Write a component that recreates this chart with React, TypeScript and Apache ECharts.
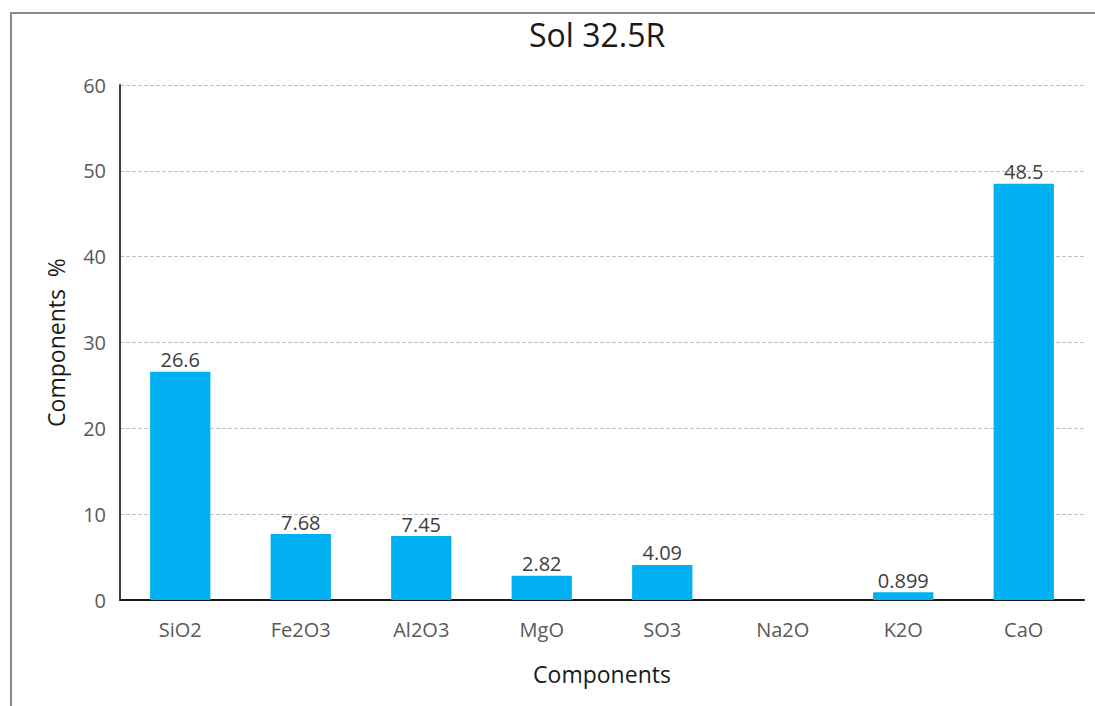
import React, { useEffect, useRef } from "react";
import * as echarts from "echarts";

const categories = ["SiO2", "Fe2O3", "Al2O3", "MgO", "SO3", "Na2O", "K2O", "CaO"];
const values: (number | null)[] = [26.6, 7.68, 7.45, 2.82, 4.09, null, 0.899, 48.5];
const titleText = "Sol 32.5R";
const xName = "Components";
const yName = "Components  %";

export default function App() {
  const ref = useRef<HTMLDivElement>(null);
  useEffect(() => {
    const chart = echarts.init(ref.current!, null, { renderer: "svg" });
    const font = "'Open Sans', 'Noto Sans', sans-serif";
    chart.setOption({
      animation: false,
      backgroundColor: "#ffffff",
      textStyle: { fontFamily: font },
      title: {
        text: titleText,
        left: 524,
        top: 13,
        textStyle: { fontFamily: font, fontSize: 32, fontWeight: "normal", color: "#1a1a1a" },
      },
      graphic: [
        {
          type: "rect",
          shape: { x: 11, y: 13, width: 1200, height: 800 },
          style: { fill: "none", stroke: "#8a8a8a", lineWidth: 2 },
          silent: true,
          z: -1,
        },
      ],
      grid: { left: 120, right: 11, top: 85, bottom: 106 },
      xAxis: {
        type: "category",
        data: categories,
        name: xName,
        nameLocation: "middle",
        nameGap: 62,
        nameTextStyle: { fontFamily: font, fontSize: 23, color: "#1a1a1a" },
        axisLine: { lineStyle: { color: "#1a1a1a", width: 2 } },
        axisTick: { show: false },
        axisLabel: { fontFamily: font, fontSize: 20, color: "#595959", margin: 19 },
      },
      yAxis: {
        type: "value",
        min: 0,
        max: 60,
        interval: 10,
        name: yName,
        nameLocation: "middle",
        nameGap: 53,
        nameTextStyle: { fontFamily: font, fontSize: 23, color: "#1a1a1a" },
        axisLine: { show: true, lineStyle: { color: "#404040", width: 2 } },
        axisTick: { show: false },
        axisLabel: { fontFamily: font, fontSize: 20, color: "#595959", margin: 14 },
        splitLine: { lineStyle: { color: "#c0c0c0", type: "dashed", width: 1 } },
      },
      series: [
        {
          type: "bar",
          data: values,
          barWidth: "50%",
          itemStyle: { color: "#00b0f0" },
          label: {
            show: true,
            position: "top",
            distance: 2,
            fontFamily: font,
            fontSize: 20,
            color: "#404040",
          },
        },
      ],
    });
    return () => chart.dispose();
  }, []);
  return (
    <div
      ref={ref}
      style={{ position: "absolute", left: 0, top: 0, width: 1095, height: 706 }}
    />
  );
}
